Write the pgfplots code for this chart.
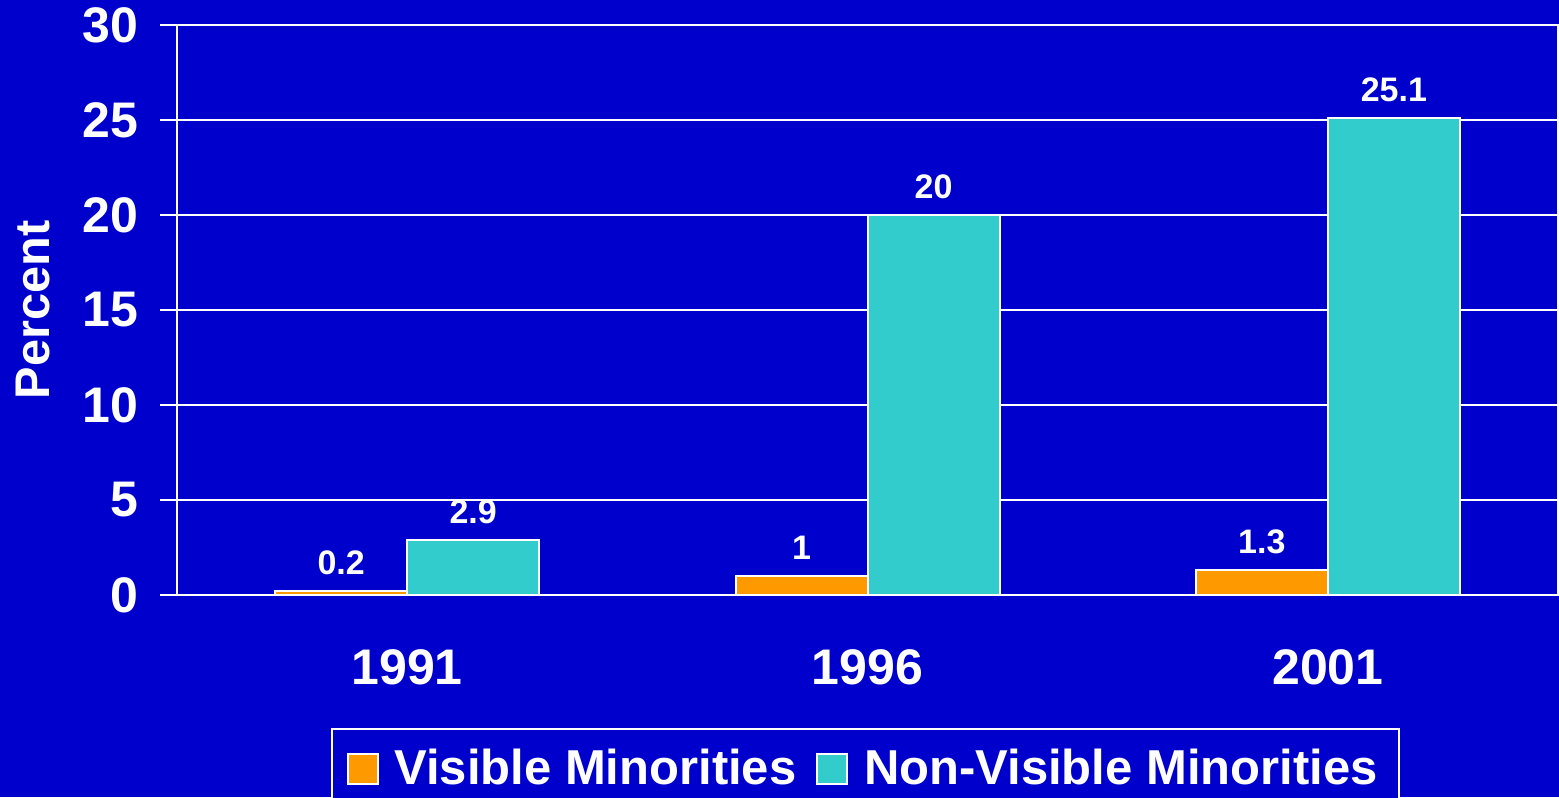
\documentclass[border=0pt]{standalone}
\usepackage{fontspec}
\setmainfont{Liberation Sans}
\usepackage{pgfplots}
\pgfplotsset{compat=1.18}
\definecolor{bgblue}{HTML}{0000CC}
\definecolor{vmorange}{HTML}{FF9900}
\definecolor{nvcyan}{HTML}{33CCCC}

\begin{document}
\begin{tikzpicture}
% 1 px of the reference = 0.3pt
\fill[bgblue] (-53.1pt,-60.6pt) rectangle (414.6pt,178.5pt);
\useasboundingbox (-53.1pt,-60.6pt) rectangle (414.6pt,178.5pt);
\begin{axis}[at={(0,0)}, anchor=south west, scale only axis,
  width=414.3pt, height=171pt,
  xmin=-0.5, xmax=2.5, ymin=0, ymax=30,
  axis line style={white, line width=0.6pt},
  xtick={0,1,2}, xticklabels={1991,1996,2001},
  minor xtick={-0.5,0.5,1.5,2.5},
  ytick={0,5,...,30},
  tick align=outside, major tick length=5.1pt, minor tick length=5.1pt,
  x tick style={draw=none}, minor x tick style={white, line width=0.6pt},
  y tick style={white, line width=0.6pt},
  ymajorgrids, grid style={white, line width=0.6pt},
  /pgf/number format/assume math mode=true,
  ticklabel style={font=\fontsize{15}{18}\selectfont\bfseries, text=white},
  xticklabel style={yshift=-7.6pt},
  yticklabel style={xshift=-3pt},
  ylabel={Percent},
  ylabel style={at={(axis description cs:-0.1043,0.5)}, anchor=center,
    font=\fontsize{14.6}{17}\selectfont\bfseries, text=white},
  ybar, bar width=39.6pt,
  nodes near coords,
  every node near coord/.append style={font=\fontsize{10.2}{12}\selectfont\bfseries,
    text=white, yshift=1.2pt},
  legend columns=2,
  legend style={at={(rel axis cs:0.4986,-0.2333)}, anchor=north,
    fill=bgblue, draw=white, line width=0.6pt, text=white,
    font=\fontsize{14.7}{17}\selectfont\bfseries,
    inner xsep=4.5pt, inner ysep=4pt,
    /tikz/every odd column/.append style={column sep=2.7pt},
    /tikz/every even column/.append style={column sep=4pt}},
  legend image code/.code={\draw[#1, draw=white, line width=0.6pt] (0pt,-4.5pt) rectangle (9pt,4.5pt);},
]
\addplot[fill=vmorange, draw=white, line width=0.6pt, bar shift=-19.8pt]
  coordinates {(0,0.2) (1,1) (2,1.3)};
\addlegendentry{Visible Minorities}
\addplot[fill=nvcyan, draw=white, line width=0.6pt, bar shift=19.8pt]
  coordinates {(0,2.9) (1,20) (2,25.1)};
\addlegendentry{Non-Visible Minorities}
\end{axis}
\end{tikzpicture}
\end{document}
